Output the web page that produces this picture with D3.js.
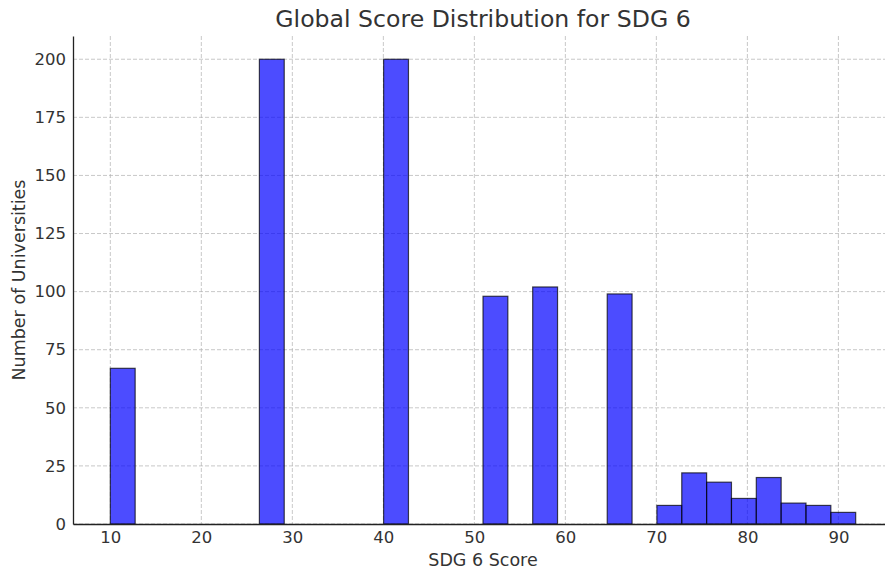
<!DOCTYPE html>
<html>
<head>
<meta charset="utf-8">
<script src="https://cdn.jsdelivr.net/npm/d3@7"></script>
<style>
  body { margin: 0; background: #fff; }
  text { font-family: "DejaVu Sans", sans-serif; fill: #333; }
</style>
</head>
<body>
<div id="chart"></div>
<script>
// Histogram of SDG 6 scores, 30 equal bins
var binMin = 10
var binMax = 91.9
var counts = [67, 0, 0, 0, 0, 0, 200, 0, 0, 0,
              0, 200, 0, 0, 0, 98, 0, 102, 0, 0,
              99, 0, 8, 22, 18, 11, 20, 9, 8, 5]
var xTicks = [10, 20, 30, 40, 50, 60, 70, 80, 90]
var yTicks = [0, 25, 50, 75, 100, 125, 150, 175, 200]

var width = 885
var height = 573
var margin = { top: 36, right: -8, bottom: 49, left: 73 }

var binWidth = (binMax - binMin) / counts.length
var bins = counts.map(function(c, i) {
  return { x0: binMin + i * binWidth, x1: binMin + (i + 1) * binWidth, count: c }
})

var svg = d3.select('#chart')
  .append('svg')
  .attr('width', width)
  .attr('height', height)

var x = d3.scaleLinear()
  .domain([5.9, 96])
  .range([margin.left, width - margin.right])

var y = d3.scaleLinear()
  .domain([0, 210])
  .range([height - margin.bottom, margin.top])

// grid
svg.append('g')
  .selectAll('line')
  .data(xTicks)
  .enter().append('line')
  .attr('x1', d => x(d)).attr('x2', d => x(d))
  .attr('y1', margin.top).attr('y2', height - margin.bottom)
  .attr('stroke', '#b0b0b0').attr('stroke-opacity', 0.7)
  .attr('stroke-dasharray', '4,2')

svg.append('g')
  .selectAll('line')
  .data(yTicks)
  .enter().append('line')
  .attr('x1', margin.left).attr('x2', width)
  .attr('y1', d => y(d)).attr('y2', d => y(d))
  .attr('stroke', '#b0b0b0').attr('stroke-opacity', 0.7)
  .attr('stroke-dasharray', '4,2')

// bars
svg.append('g')
  .selectAll('rect')
  .data(bins.filter(d => d.count > 0))
  .enter().append('rect')
  .attr('x', d => x(d.x0))
  .attr('width', d => x(d.x1) - x(d.x0))
  .attr('y', d => y(d.count))
  .attr('height', d => y(0) - y(d.count))
  .attr('fill', 'blue')
  .attr('fill-opacity', 0.7)
  .attr('stroke', 'black')
  .attr('stroke-opacity', 0.7)
  .attr('stroke-width', 1.2)

// axes
var xAxis = svg.append('g')
  .attr('transform', 'translate(0,' + (height - margin.bottom) + ')')
  .call(d3.axisBottom(x).tickValues(xTicks).tickSize(0).tickPadding(7))
var yAxis = svg.append('g')
  .attr('transform', 'translate(' + margin.left + ',0)')
  .call(d3.axisLeft(y).tickValues(yTicks).tickSize(0).tickPadding(7))

;[xAxis, yAxis].forEach(function(a) {
  a.select('.domain').attr('stroke', '#222').attr('stroke-width', 1.3)
  a.selectAll('text')
    .style('font-family', '"DejaVu Sans", sans-serif')
    .style('font-size', '16.5px')
    .attr('fill', '#262626')
})

// titles
svg.append('text')
  .attr('x', (margin.left + x(96)) / 2)
  .attr('y', 27)
  .attr('text-anchor', 'middle')
  .style('font-size', '23.6px')
  .text('Global Score Distribution for SDG 6')

svg.append('text')
  .attr('x', (margin.left + x(96)) / 2)
  .attr('y', 566)
  .attr('text-anchor', 'middle')
  .style('font-size', '17.5px')
  .text('SDG 6 Score')

svg.append('text')
  .attr('transform', 'translate(25,' + ((margin.top + height - margin.bottom) / 2) + ') rotate(-90)')
  .attr('text-anchor', 'middle')
  .style('font-size', '17.5px')
  .text('Number of Universities')
</script>
</body>
</html>
